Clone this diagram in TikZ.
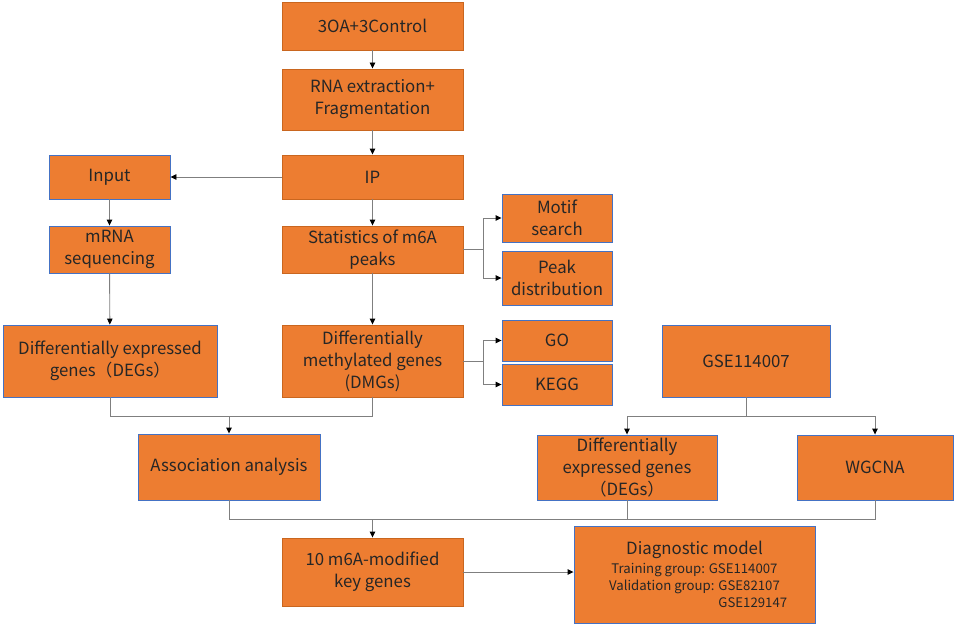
\documentclass[tikz,border=0pt]{standalone}
\usepackage{fontspec}
\setmainfont{Noto Sans CJK SC}
\usetikzlibrary{arrows.meta}
\definecolor{boxfill}{HTML}{ED7D31}
\definecolor{edgeorg}{HTML}{C9661F}
\definecolor{edgeblue}{HTML}{4472C4}
\definecolor{linegray}{HTML}{7F7F7F}
\tikzset{
  procbox/.style={draw=edgeorg, line width=0.9pt, fill=boxfill, align=center,
    inner sep=0pt, font=\fontsize{16.8}{22}\selectfont, text=black!85},
  bluebox/.style={procbox, draw=edgeblue},
  link/.style={draw=linegray, line width=0.9pt},
  arr/.style={link, -{Triangle[length=6pt,width=5.5pt,black]}}
}
\newcommand{\subline}[1]{{\fontsize{13.2}{17}\selectfont #1}}
\begin{document}
\begin{tikzpicture}[x=1pt, y=-1pt]
	\useasboundingbox (0,0) rectangle (955,626);
		\node (ctrl)at (372.5, 26)[procbox, minimum width=181, minimum height=48]  {3OA+3Control};
		\node (rna)at (372.5, 99.5)[procbox, minimum width=181, minimum height=61]  {RNA extraction+\\Fragmentation};
		\node (ip)at (372.5, 177)[procbox, minimum width=181, minimum height=44]  {IP};
		\node (input)at (109.5, 177)[bluebox, minimum width=121, minimum height=44]  {Input};
		\node (mrna)at (109.5, 249.5)[bluebox, minimum width=121, minimum height=47]  {mRNA\\sequencing};
		\node (stats)at (372.5, 249.5)[procbox, minimum width=181, minimum height=47]  {Statistics of m6A\\peaks};
		\node (motif)at (557, 218)[bluebox, minimum width=110, minimum height=48]  {Motif\\search};
		\node (peak)at (557, 278)[bluebox, minimum width=110, minimum height=54]  {Peak\\distribution};
		\node (go)at (557, 340.5)[bluebox, minimum width=110, minimum height=41]  {GO};
		\node (kegg)at (557, 384.5)[bluebox, minimum width=110, minimum height=41]  {KEGG};
		\node (degl)at (110, 361)[bluebox, minimum width=214, minimum height=72]  {Differentially expressed\\genes（DEGs）};
		\node (dmg)at (372.5, 361)[procbox, minimum width=181, minimum height=72]  {Differentially\\methylated genes\\(DMGs)};
		\node (gse)at (746, 361)[bluebox, minimum width=168, minimum height=72]  {GSE114007};
		\node (degr)at (627, 467.5)[bluebox, minimum width=180, minimum height=65]  {Differentially\\expressed genes\\（DEGs）};
		\node (wgcna)at (875, 467.5)[bluebox, minimum width=156, minimum height=65]  {WGCNA};
		\node (assoc)at (229, 467)[bluebox, minimum width=182, minimum height=66]  {Association analysis};
		\node (key)at (372.5, 572)[procbox, minimum width=181, minimum height=68]  {10 m6A-modified\\key genes};
		\node (diag)at (694.5, 574.5)[bluebox, minimum width=241, minimum height=97]
		  {Diagnostic model\\[-3pt]
		   \subline{Training group: GSE114007}\\[-5pt]
		   \subline{Validation group: GSE82107}\\[-5pt]
		   \subline{\hphantom{Validation group: }\rlap{GSE129147}\hphantom{GSE82107}}};
		% junction points
		\coordinate (m1)at (229, 416);
		\coordinate (m2)at (746, 416);
		\coordinate (m3)at (372.5, 519);
		\draw [arr](ctrl)--(rna);
		\draw [arr](rna)--(ip);
		\draw [arr](ip)--(input);
		\draw [arr](input)--(mrna);
		\draw [arr](ip)--(stats);
		\draw [arr](mrna)--(degl);
		\draw [arr](stats)--(dmg);
		\draw [arr](stats.east)--++(20, 0)|-(motif.west);
		\draw [arr](stats.east)--++(20, 0)|-(peak.west);
		\draw [arr](dmg.east)--++(20, 0)|-(go.west);
		\draw [arr](dmg.east)--++(20, 0)|-(kegg.west);
		\draw [link](degl.south)|-(m1);
		\draw [link](dmg.south)|-(m1);
		\draw [arr](m1)--(assoc.north);
		\draw [link](gse.south)--(m2);
		\draw [arr](m2)-|(degr.north);
		\draw [arr](m2)-|(wgcna.north);
		\draw [link](assoc.south)|-(m3);
		\draw [link](degr.south)|-(m3);
		\draw [link](wgcna.south)|-(m3);
		\draw [arr](m3)--(key.north);
		\draw [arr](key.east)--(key.east -| diag.west);
	\end{tikzpicture}
\end{document}
